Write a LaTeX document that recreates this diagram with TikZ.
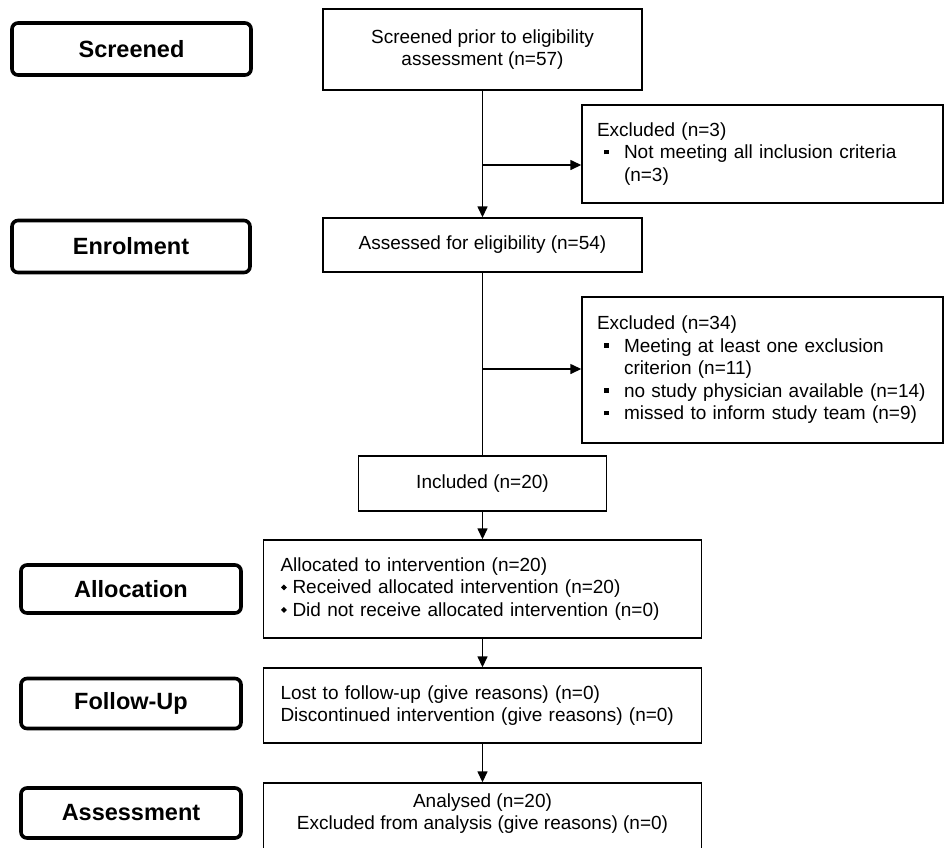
\documentclass[tikz,border=0pt]{standalone}
\usepackage{fontspec}
\setmainfont{Liberation Sans}
\usetikzlibrary{arrows.meta}
\newcommand\sqbul{\makebox[27pt][l]{\hspace{7pt}\rule[4.5pt]{4.5pt}{4.5pt}}}
\newcommand\sqind{\hspace*{27pt}}
\newcommand\dmbul{\makebox[12pt][l]{\hspace{0.5pt}\raisebox{3.5pt}{\rotatebox{45}{\rule{4.2pt}{4.2pt}}}}}
\begin{document}
\begin{tikzpicture}[x=1pt,y=-1pt,
  stage/.style={draw, line width=3.6pt, rounded corners=6pt, inner sep=0pt,
    font=\fontsize{23.5}{26}\selectfont\bfseries},
  box/.style={draw, line width=1.4pt, inner sep=0pt, align=center,
    font=\fontsize{19}{22.5}\selectfont},
  lbox/.style={box, align=left},
  arr/.style={line width=1.4pt, -{Triangle[length=11pt,width=10pt]}},
  ln/.style={line width=1.4pt}]
\useasboundingbox (0,0) rectangle (945,847);
\clip (0,0) rectangle (945,847);
% stage labels
\node[stage, minimum width=239pt, minimum height=52pt] (st1) at (131.5,49) {Screened};
\node[stage, minimum width=238pt, minimum height=52pt] (st2) at (131,246.5) {Enrolment};
\node[stage, minimum width=220pt, minimum height=48pt] (st3) at (131,589) {Allocation};
\node[stage, minimum width=220pt, minimum height=50pt] (st4) at (131,703.5) {Follow-Up};
\node[stage, minimum width=220pt, minimum height=50pt] (st5) at (131,813) {Assessment};
% main column
\node[box, minimum width=319pt, minimum height=81pt] (scr) at (482.5,49.5)
  {Screened prior to eligibility\\assessment (n=57)};
\node[lbox, text width=331pt, minimum width=361pt, minimum height=98pt] (excl1) at (762.5,154)
  {Excluded (n=3)\\\sqbul Not meeting all inclusion criteria\\\sqind(n=3)};
\node[box, minimum width=319pt, minimum height=54pt] (ass) at (482.5,245)
  {Assessed for eligibility (n=54)};
\node[lbox, text width=331pt, minimum width=361pt, minimum height=146pt] (excl2) at (762.5,370)
  {Excluded (n=34)\\\sqbul Meeting at least one exclusion\\\sqind criterion (n=11)\\\sqbul no study physician available (n=14)\\\sqbul missed to inform study team (n=9)};
\node[box, minimum width=248pt, minimum height=55pt] (inc) at (482.5,483.5)
  {Included (n=20)};
\node[lbox, text width=404pt, minimum width=438pt, minimum height=98pt] (alloc) at (482.5,589)
  {Allocated to intervention (n=20)\\\dmbul Received allocated intervention (n=20)\\\dmbul Did not receive allocated intervention (n=0)};
\node[lbox, text width=404pt, minimum width=438pt, minimum height=75pt] (lost) at (482.5,705.5)
  {Lost to follow-up (give reasons) (n=0)\\Discontinued intervention (give reasons) (n=0)};
\node[box, minimum width=438pt, minimum height=80pt] (anal) at (482.5,823)
  {Analysed (n=20)\\Excluded from analysis (give reasons) (n=0)\\\mbox{}};
% connectors
\draw[arr] (scr.south) -- (ass.north);
\coordinate (b1) at (482.5,165);
\draw[arr] (b1) -- (b1 -| excl1.west);
\draw[ln] (ass.south) -- (inc.north);
\coordinate (b2) at (482.5,369);
\draw[arr] (b2) -- (b2 -| excl2.west);
\draw[arr] (inc.south) -- (alloc.north);
\draw[arr] (alloc.south) -- (lost.north);
\draw[arr] (lost.south) -- (anal.north);
\end{tikzpicture}
\end{document}
